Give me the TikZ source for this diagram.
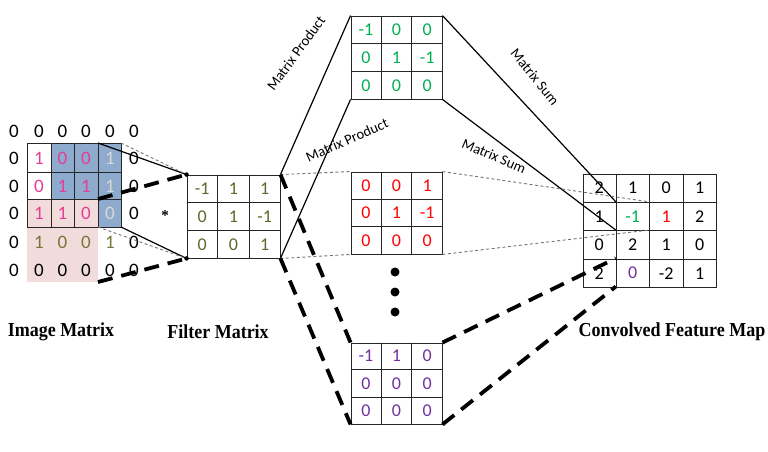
\documentclass[tikz,border=0pt]{standalone}
\usepackage{fontspec}
\setmainfont{Liberation Serif}
\newfontfamily\numfont{Carlito}
\usetikzlibrary{calc}
\definecolor{mag}{HTML}{E43D96}
\definecolor{lgr}{HTML}{D9D9D9}
\definecolor{olv}{HTML}{76763A}
\definecolor{folv}{HTML}{5A6A2A}
\definecolor{grn}{HTML}{00B050}
\definecolor{rd}{HTML}{FF0000}
\definecolor{prp}{HTML}{7030A0}
\definecolor{bluef}{HTML}{8EAACC}
\definecolor{pinkf}{HTML}{F2DCDB}
\tikzset{
  mbox/.style={draw=black!85, line width=0.9pt, inner sep=0pt, minimum width=#1},
  gl/.style={draw=black!85, line width=0.9pt},
  num/.style={font=\numfont\fontsize{18}{18}\selectfont, inner sep=0pt},
  solidc/.style={draw=black, line width=1.2pt},
  thinc/.style={draw=black!55, line width=0.9pt, dash pattern=on 3pt off 2.5pt},
  thickc/.style={draw=black, line width=3.8pt, dash pattern=on 15pt off 9pt},
  lbl/.style={font=\bfseries\fontsize{18}{18}\selectfont, inner sep=0pt, yscale=1.1},
  opl/.style={font=\numfont\fontsize{14.5}{14.5}\selectfont, inner sep=0pt},
  bdot/.style={fill=black, circle, inner sep=0pt, minimum size=#1},
}
\newcommand\mgrid[3]{%
  \pgfmathtruncatemacro\ncm{#2-1}%
  \pgfmathtruncatemacro\nrm{#3-1}%
  \foreach \i in {1,...,\ncm}{\draw[gl] ($(#1.north west)!{\i/#2}!(#1.north east)$) -- ($(#1.south west)!{\i/#2}!(#1.south east)$);}%
  \foreach \i in {1,...,\nrm}{\draw[gl] ($(#1.north west)!{\i/#3}!(#1.south west)$) -- ($(#1.north east)!{\i/#3}!(#1.south east)$);}%
}
\newcommand\mnums[4]{%
  \foreach \v/\c [count=\k from 0] in {#4} {%
    \pgfmathtruncatemacro\cc{mod(\k,#2)}%
    \pgfmathtruncatemacro\rr{div(\k,#2)}%
    \path let \p1=(#1.north west), \p2=(#1.south east) in
      node[num, text=\c] (#1-\rr-\cc) at ({\x1+(\cc+0.5)*(\x2-\x1)/#2}, {\y1+(\rr+0.5)*(\y2-\y1)/#3}) {\v};
  }%
}
\begin{document}
\begin{tikzpicture}[x=1pt,y=-1pt]
\useasboundingbox (0,0) rectangle (768,452);
% ---------- image matrix ----------
\fill[pinkf] (27,199) rectangle (98,282);
\fill[bluef] (51,143) rectangle (121,199);
\fill[bluef] (98,199) rectangle (121,227);
\draw[gl] (27,143) rectangle (121,227);
\foreach \xx in {51,74,98} \draw[gl] (\xx,143) -- (\xx,227);
\foreach \yy in {172,199} \draw[gl] (27,\yy) -- (121,\yy);
\foreach \row [count=\r from 0] in {
  {0/black,0/black,0/black,0/black,0/black,0/black},
  {0/black,1/mag,0/mag,0/mag,1/lgr,0/black},
  {0/black,0/mag,1/mag,1/mag,1/lgr,0/black},
  {0/black,1/mag,1/mag,0/mag,0/lgr,0/black},
  {0/black,1/olv,0/olv,0/olv,1/olv,0/black},
  {0/black,0/black,0/black,0/black,0/black,0/black}} {
  \foreach \v/\c [count=\k from 0] in \row {
    \pgfmathsetmacro\xx{{14,39,62.5,86,110,134}[\k]}
    \pgfmathsetmacro\yy{{131,158,186,213,242,270}[\r]}
    \node[num, text=\c, font=\numfont\fontsize{19}{19}\selectfont] (im-\r-\k) at (\xx,\yy) {\v};
  }
}
\coordinate (iTL) at (98,143);
\coordinate (iTR) at (121,143);
\coordinate (iMR) at (98,199);
\coordinate (iBR) at (121,227);
\coordinate (iBL) at (98,227);
\coordinate (iLL) at (98,282);
% ---------- filter ----------
\node[mbox=93pt, minimum height=83pt] (filt) at (233.5,216.5) {};
\mgrid{filt}{3}{3}
\mnums{filt}{3}{3}{-1/folv,1/folv,1/folv,0/folv,1/folv,-1/folv,0/folv,0/folv,1/folv}
\node[font=\bfseries\fontsize{15}{15}\selectfont, inner sep=0pt] (star) at (165,216) {*};
% ---------- product matrices ----------
\node[mbox=91pt, minimum height=83pt] (gm) at (396.5,57.5) {};
\mgrid{gm}{3}{3}
\mnums{gm}{3}{3}{-1/grn,0/grn,0/grn,0/grn,1/grn,-1/grn,0/grn,0/grn,0/grn}
\node[mbox=91pt, minimum height=82pt] (rm) at (396.5,213) {};
\mgrid{rm}{3}{3}
\mnums{rm}{3}{3}{0/rd,0/rd,1/rd,0/rd,1/rd,-1/rd,0/rd,0/rd,0/rd}
\node[mbox=91pt, minimum height=81pt] (pm) at (396.5,383.5) {};
\mgrid{pm}{3}{3}
\mnums{pm}{3}{3}{-1/prp,1/prp,0/prp,0/prp,0/prp,0/prp,0/prp,0/prp,0/prp}
\node[bdot=9pt] (d1) at (395,272) {};
\node[bdot=9pt] (d2) at (395,292) {};
\node[bdot=9pt] (d3) at (395,312) {};
% ---------- feature map ----------
\node[mbox=133pt, minimum height=113pt] (fm) at (649.5,230.5) {};
\mgrid{fm}{4}{4}
\mnums{fm}{4}{4}{2/black,1/black,0/black,1/black,1/black,-1/grn,1/rd,2/black,0/black,2/black,1/black,0/black,2/black,0/prp,-2/black,1/black}
\coordinate (fA) at ($(fm.north west)+(33.25,28.25)$);
\coordinate (fB) at ($(fm.north west)+(33.25,56.5)$);
\coordinate (fC) at ($(fm.north west)+(66.5,28.25)$);
\coordinate (fD) at ($(fm.north west)+(66.5,56.5)$);
\coordinate (fE) at ($(fm.north west)+(33.25,84.75)$);
\coordinate (fF) at ($(fm.north west)+(33.25,113)$);
% ---------- connectors: image -> filter ----------
\draw[solidc] (iTL) -- (filt.north west);
\draw[thinc] (iTR) -- (filt.north west);
\draw[thickc] (iMR) -- (filt.north west);
\draw[solidc] (iBR) -- (filt.south west);
\draw[thinc] (iBL) -- (filt.south west);
\draw[thickc] (iLL) -- (filt.south west);
\node[bdot=4.5pt] (c1) at (filt.north west) {};
\node[bdot=4.5pt] (c2) at (filt.south west) {};
% ---------- filter -> products ----------
\draw[solidc] (filt.north east) -- (gm.north west);
\draw[solidc] (filt.south east) -- (gm.south west);
\draw[thinc] (filt.north east) -- (rm.north west);
\draw[thinc] (filt.south east) -- (rm.south west);
\draw[thickc] (filt.north east) -- (pm.north west);
\draw[thickc] (filt.south east) -- (pm.south west);
% ---------- products -> feature map ----------
\draw[solidc] (gm.north east) -- (fA);
\draw[solidc] (gm.south east) -- (fB);
\draw[thinc] (rm.north east) -- (fC);
\draw[thinc] (rm.south east) -- (fD);
\draw[thickc] (pm.north east) -- (fE);
\draw[thickc] (pm.south east) -- (fF);
% ---------- operation labels ----------
\node[opl, rotate=54] (mp1) at (296,53) {Matrix Product};
\node[opl, rotate=24] (mp2) at (347,140) {Matrix Product};
\node[opl, rotate=-51] (ms1) at (535,77) {Matrix Sum};
\node[opl, rotate=-23] (ms2) at (494,156) {Matrix Sum};
% ---------- titles ----------
\node[lbl] (t1) at (61,332) {Image Matrix};
\node[lbl] (t2) at (218,332) {Filter Matrix};
\node[lbl] (t3) at (672,332) {Convolved Feature Map};
\end{tikzpicture}
\end{document}
